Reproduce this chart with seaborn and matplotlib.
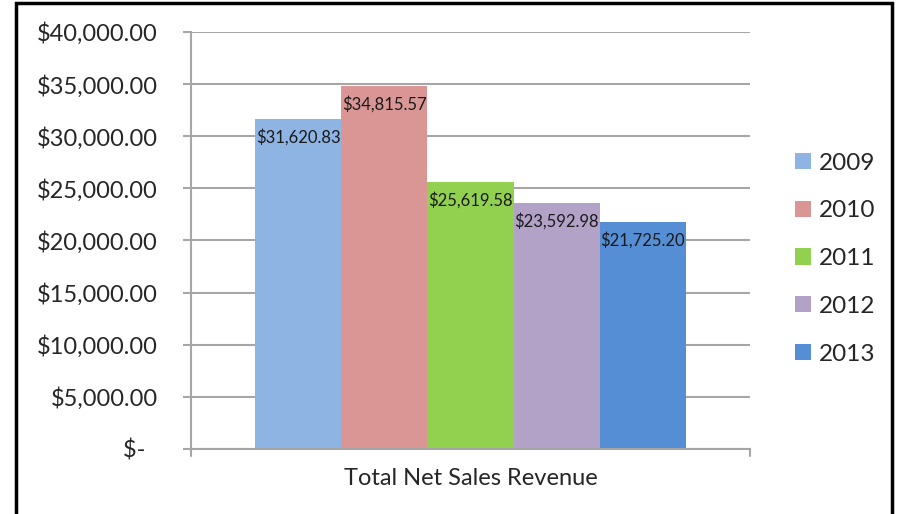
import pandas as pd
import matplotlib.pyplot as plt
import seaborn as sns
from matplotlib.patches import Rectangle

# Chart values
category = "Total Net Sales Revenue"
years = ["2009", "2010", "2011", "2012", "2013"]
revenue = [31620.83, 34815.57, 25619.58, 23592.98, 21725.20]
colors = ["#8EB4E3", "#D99694", "#92D050", "#B3A2C7", "#558ED5"]
yticks = [0, 5000, 10000, 15000, 20000, 25000, 30000, 35000, 40000]

data = pd.DataFrame({"Category": [category] * len(years), "Year": years, "Revenue": revenue})

sns.set_style("white")
plt.rcParams["font.family"] = ["Lato", "DejaVu Sans"]

fig = plt.figure(figsize=(8.99, 5.14), dpi=100)
ax = fig.add_axes([0.2125, 0.1265, 0.6218, 0.8113])

sns.barplot(data=data, x="Category", y="Revenue", hue="Year", palette=colors,
            width=0.77, gap=0, ax=ax, saturation=1, legend=True, linewidth=0)
ax.set_xlim(-0.5, 0.5)

# data labels just inside the top of each bar
for patch, val in zip(ax.patches, revenue):
    ax.annotate("${:,.2f}".format(val),
                (patch.get_x() + patch.get_width() / 2, patch.get_height()),
                xytext=(0, -7), textcoords="offset points",
                ha="center", va="top", fontsize=12, color="#1a1a1a")

grid = "#a6a6a6"
ax.set_ylim(0, 40000)
ax.set_yticks(yticks)
ax.set_yticklabels(["$-  "] + ["${:,.2f}".format(v) for v in yticks[1:]], fontsize=17)
ax.yaxis.grid(True, color=grid, linewidth=1.5)
ax.set_axisbelow(True)
ax.tick_params(axis="y", length=6, width=1.5, color=grid, pad=18, left=True)
ax.tick_params(axis="x", length=0, pad=14, labelsize=17)
ax.set_xlabel("")
ax.set_ylabel("")

for side in ["top", "right"]:
    ax.spines[side].set_visible(False)
for side in ["left", "bottom"]:
    ax.spines[side].set_color(grid)
    ax.spines[side].set_linewidth(1.5)

# small end ticks below the category axis
for xe in [0, 1]:
    ax.plot([xe, xe], [0, -0.018], transform=ax.transAxes, color=grid,
            linewidth=1.5, clip_on=False)

handles, labels = ax.get_legend_handles_labels()
ax.legend(handles, labels, loc="center left", bbox_to_anchor=(0.86, 0.497),
          bbox_transform=fig.transFigure, frameon=False, fontsize=17.5,
          handlelength=0.65, handleheight=0.65, handletextpad=0.35, labelspacing=1.1)

# outer border
fig.patches.append(Rectangle((16 / 899, -0.02), 876 / 899, 1.0 - 3 / 514 + 0.02,
                             transform=fig.transFigure, fill=False,
                             edgecolor="black", linewidth=2.5))

plt.savefig("out.png", dpi=100)
plt.close()
